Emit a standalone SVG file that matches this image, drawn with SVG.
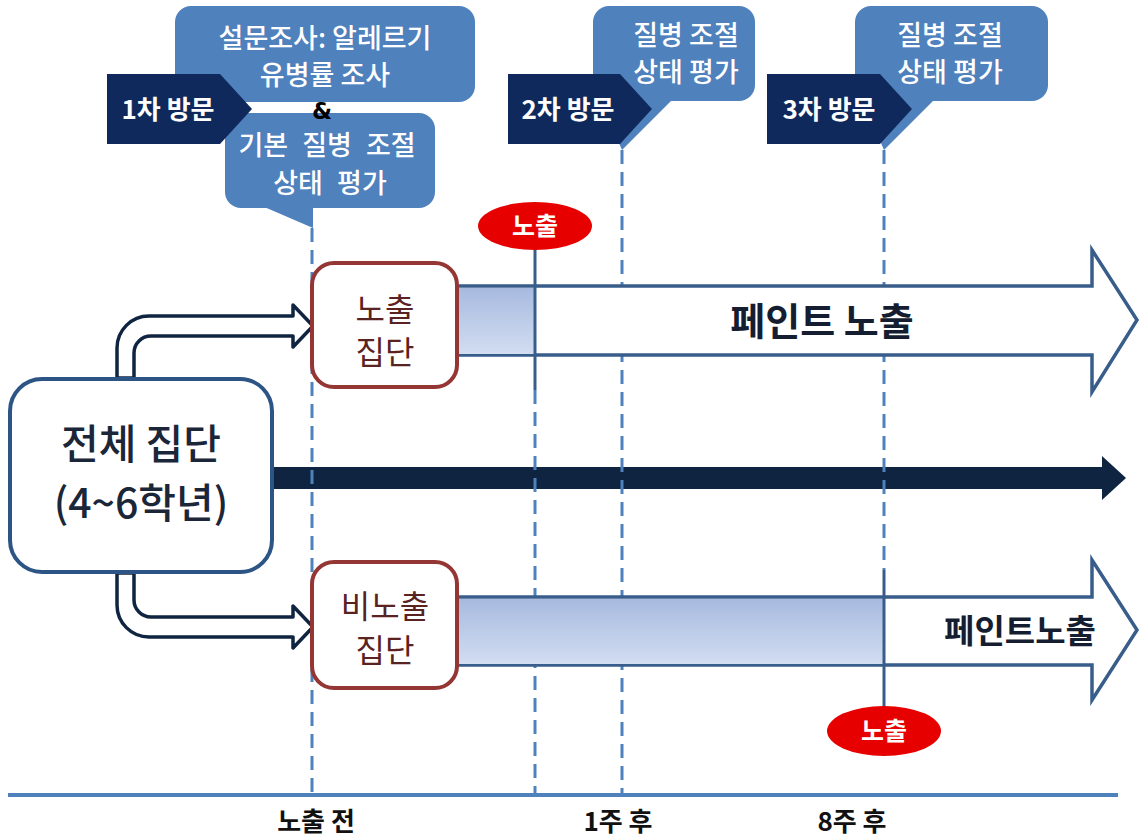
<svg xmlns="http://www.w3.org/2000/svg" width="1140" height="837" viewBox="0 0 1140 837">
<defs>
<style>
text{font-family:"Noto Sans CJK KR","Liberation Sans",sans-serif;text-anchor:middle}
.callout{fill:#4f81bd}
.ct{fill:#fff;font-size:27px;font-weight:500}
.visit{fill:#10295c}
.vt{fill:#fff;font-size:26px;font-weight:bold}
.dash{stroke:#4f81bd;stroke-width:3;stroke-dasharray:14 8;fill:none}
.hollow{fill:#fff;stroke:#0f2440;stroke-width:3.5;stroke-linejoin:round}
.block{fill:#fff;stroke:#385d8a;stroke-width:3.5;stroke-linejoin:miter}
.grp{fill:#fff;stroke:#943634;stroke-width:4}
.gt{fill:#5a2220;font-size:32px}
.red{fill:#e60000}
.rt{fill:#fff;font-size:25px;font-weight:bold}
.solid{stroke:#385d8a;stroke-width:3}
.ax{fill:#111;font-size:26px;font-weight:bold}
</style>
<linearGradient id="gr" x1="0" y1="0" x2="0" y2="1">
<stop offset="0" stop-color="#a7badf"/>
<stop offset="1" stop-color="#d2ddf1"/>
</linearGradient>
</defs>
<rect width="1140" height="837" fill="#fff"/>

<g id="connectors">
<rect x="273" y="467" width="832" height="22" fill="#0f2440"/>
<polygon points="1102,456 1126,478 1102,500" fill="#0f2440"/>
<line class="dash" x1="312" y1="228" x2="312" y2="795"/>
<line class="dash" x1="535" y1="390" x2="535" y2="795"/>
<line class="dash" x1="622" y1="150" x2="622" y2="795"/>
<line class="dash" x1="884" y1="150" x2="884" y2="570"/>
<path class="hollow" d="M117,378 V348 A32,32 0 0 1 149,316 H293 V305 L313,326 L293,347 V336 H151 A17,17 0 0 0 134,353 V378 Z"/>
<path class="hollow" d="M117,573 V605 A32,32 0 0 0 149,637 H293 V648 L313,627 L293,606 V617 H151 A17,17 0 0 1 134,600 V573 Z"/>
<line x1="8" y1="795" x2="1118" y2="795" stroke="#4f81bd" stroke-width="4"/>
</g>

<g id="callout1">
<rect class="callout" x="175" y="6" width="300" height="96" rx="16"/>
<text class="ct" x="325" y="48">설문조사: 알레르기</text>
<text class="ct" x="325" y="85">유병률 조사</text>
</g>
<g id="callout2">
<rect class="callout" x="225" y="113" width="210" height="95" rx="16"/>
<polygon class="callout" points="262,206 313,206 313,228"/>
<text class="ct" x="327" y="155" style="word-spacing:8px">기본 질병 조절</text>
<text class="ct" x="330" y="193" style="word-spacing:8px">상태 평가</text>
</g>
<text id="amp" x="322" y="119" style="font-family:'DejaVu Sans',sans-serif;font-size:23px;font-weight:bold;fill:#000">&amp;</text>
<g id="callout3">
<rect class="callout" x="593" y="6" width="162" height="95" rx="16"/>
<polygon class="callout" points="600,99 673,99 622,150"/>
<text class="ct" x="686" y="45">질병 조절</text>
<text class="ct" x="686" y="82">상태 평가</text>
</g>
<g id="callout4">
<rect class="callout" x="855" y="6" width="193" height="95" rx="16"/>
<polygon class="callout" points="862,99 935,99 884,150"/>
<text class="ct" x="950" y="45">질병 조절</text>
<text class="ct" x="950" y="82">상태 평가</text>
</g>
<g id="visit1">
<polygon class="visit" points="107,74 220,74 252,109 220,144 107,144"/>
<text class="vt" x="168" y="119">1차 방문</text>
</g>
<g id="visit2">
<polygon class="visit" points="508,74 620,74 652,109 620,144 508,144"/>
<text class="vt" x="568" y="119">2차 방문</text>
</g>
<g id="visit3">
<polygon class="visit" points="767,74 880,74 912,109 880,144 767,144"/>
<text class="vt" x="829" y="119">3차 방문</text>
</g>

<g id="exposure-arrow">
<polygon class="block" points="457,286 1092,286 1092,250 1137,320 1092,392 1092,355 457,355"/>
<rect x="459" y="288" width="76" height="66" fill="url(#gr)"/>
<text x="822" y="335" style="font-size:38px;font-weight:bold;fill:#141e30">페인트 노출</text>
</g>
<g id="nonexposure-arrow">
<polygon class="block" points="457,597 1092,597 1092,560 1137,630 1092,700 1092,665 457,665"/>
<rect x="459" y="599" width="425" height="65" fill="url(#gr)"/>
<text x="1020" y="643" style="font-size:33px;font-weight:bold;fill:#141e30">페인트노출</text>
</g>

<g id="total">
<rect x="10" y="379" width="262" height="193" rx="32" fill="#fff" stroke="#2c5585" stroke-width="4"/>
<text x="141" y="459" style="font-size:41px;font-weight:500;fill:#1b2638">전체 집단</text>
<text x="141" y="518" style="font-size:41px;font-weight:500;fill:#1b2638">(4~6학년)</text>
</g>
<g id="exposed">
<rect class="grp" x="312" y="263" width="145" height="124" rx="22"/>
<text class="gt" x="385" y="321">노출</text>
<text class="gt" x="385" y="364">집단</text>
</g>
<g id="nonexposed">
<rect class="grp" x="312" y="562" width="145" height="126" rx="22"/>
<text class="gt" x="385" y="618">비노출</text>
<text class="gt" x="385" y="662">집단</text>
</g>

<g id="marker-lines">
<line class="solid" x1="535" y1="248" x2="535" y2="390"/>
<line class="solid" x1="884" y1="570" x2="884" y2="708"/>
</g>
<g id="expose1">
<ellipse class="red" cx="535" cy="226" rx="57" ry="24"/>
<text class="rt" x="535" y="235">노출</text>
</g>
<g id="expose2">
<ellipse class="red" cx="884" cy="731" rx="57" ry="25"/>
<text class="rt" x="884" y="740">노출</text>
</g>

<g id="axis-labels">
<text class="ax" x="316" y="831">노출 전</text>
<text class="ax" x="618" y="831">1주 후</text>
<text class="ax" x="852" y="831">8주 후</text>
</g>
</svg>
